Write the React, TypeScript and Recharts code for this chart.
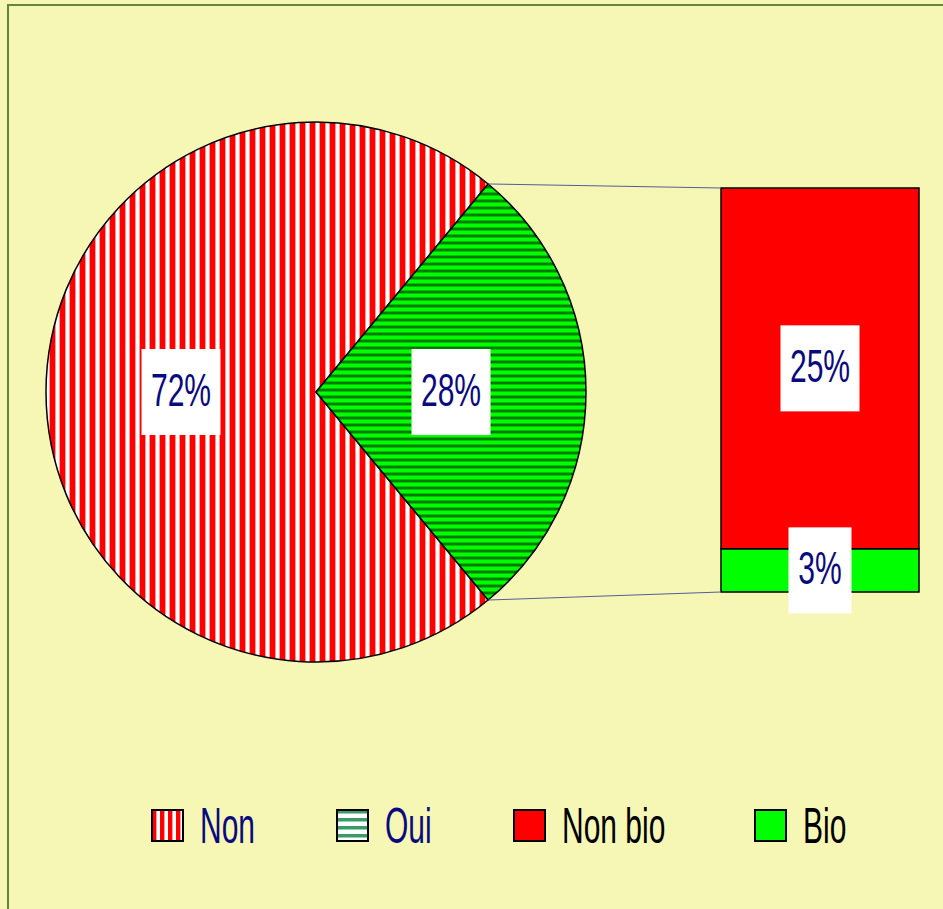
import { PieChart, Pie, Cell, BarChart, Bar, XAxis, YAxis, LabelList } from "recharts";

const categories = ["Non", "Oui"];
const shares = [72, 28];
const subCategories = ["Non bio", "Bio"];
const subShares = [25, 3];

const pieData = categories.map((name, i) => ({ name, value: shares[i] }));
const barData = [{ name: categories[1], nonBio: subShares[0], bio: subShares[1] }];

const BG = "#F7F7B5";
const NAVY = "#0A0A80";
const FONT = "'Liberation Sans', Arial, sans-serif";
const PIE = { cx: 316, cy: 392, r: 270 };
const BAR = { left: 700, top: 150, width: 243, height: 480, margin: { top: 38, right: 24, bottom: 38, left: 21 } };
const LEGEND_X = [152, 337, 514, 755];
const RAD = Math.PI / 180;

// half of the "Oui" slice, so it sits centred on the right
const halfOui = (shares[1] / 100) * 180;

function boxWidth(text: string) {
  const digits = text.replace("%", "").length;
  return digits * 16 + 31 + 16;
}

function PctBox({ x, y, text }: { x: number; y: number; text: string }) {
  const w = boxWidth(text);
  return (
    <g>
      <rect x={x - w / 2} y={y - 43} width={w} height={86} fill="#fff" />
      <text
        transform={`translate(${x} ${y + 14}) scale(0.64 1)`}
        textAnchor="middle"
        fontFamily={FONT}
        fontSize={47}
        fill={NAVY}
      >
        {text}
      </text>
    </g>
  );
}

const pieLabel = (p: any) => {
  const rr = p.outerRadius * 0.5;
  const x = p.cx + rr * Math.cos(-p.midAngle * RAD);
  const y = p.cy + rr * Math.sin(-p.midAngle * RAD);
  return <PctBox x={x} y={y} text={`${p.value}%`} />;
};

const barLabel = (p: any) => (
  <PctBox x={p.x + p.width / 2} y={p.y + p.height / 2} text={`${p.value}%`} />
);

function Patterns() {
  return (
    <svg width={0} height={0} style={{ position: "absolute" }}>
      <defs>
        <pattern id="nonStripes" width={10} height={10} patternUnits="userSpaceOnUse">
          <rect width={10} height={10} fill="#fff" />
          <rect x={0} width={5} height={10} fill="#FF0000" />
          <rect x={5} width={1} height={10} fill="#FF9A9A" />
          <rect x={9} width={1} height={10} fill="#FF9A9A" />
        </pattern>
        <pattern id="ouiStripes" width={7} height={7} patternUnits="userSpaceOnUse">
          <rect width={7} height={7} fill="#00FF00" />
          <rect y={3} width={7} height={1} fill="#00C000" />
          <rect y={4} width={7} height={2} fill="#007A00" />
          <rect y={6} width={7} height={1} fill="#00C000" />
        </pattern>
        <pattern id="legNon" x={0} width={8} height={8} patternUnits="userSpaceOnUse">
          <rect width={8} height={8} fill="#fff" />
          <rect x={0} width={4} height={8} fill="#FF0000" />
          <rect x={4} width={1} height={8} fill="#FF9A9A" />
        </pattern>
        <pattern id="legOui" width={8} height={8} patternUnits="userSpaceOnUse">
          <rect width={8} height={8} fill="#fff" />
          <rect y={2} width={8} height={3} fill="#3A9A68" />
          <rect y={5} width={8} height={1} fill="#9CCCB2" />
        </pattern>
      </defs>
    </svg>
  );
}

export default function App() {
  const topPie = { x: PIE.cx + PIE.r * Math.cos(halfOui * RAD), y: PIE.cy - PIE.r * Math.sin(halfOui * RAD) };
  const botPie = { x: topPie.x, y: PIE.cy + PIE.r * Math.sin(halfOui * RAD) };
  const barX = BAR.left + BAR.margin.left;
  const barTop = BAR.top + BAR.margin.top;
  const barBottom = BAR.top + BAR.height - BAR.margin.bottom;

  const legendItems = [
    { name: categories[0], fill: "url(#legNon)", color: NAVY },
    { name: categories[1], fill: "url(#legOui)", color: NAVY },
    { name: subCategories[0], fill: "#FF0000", color: "#000" },
    { name: subCategories[1], fill: "#00FF00", color: "#000" },
  ];

  return (
    <div style={{ position: "absolute", left: 0, top: 0, width: 943, height: 909, overflow: "hidden", background: BG }}>
      <Patterns />
      <div style={{ position: "absolute", left: 7, top: 4, width: 1000, height: 1000, border: "2px solid #66873A" }} />

      <div style={{ position: "absolute", left: 0, top: 0 }}>
        <PieChart width={640} height={700} margin={{ top: 0, right: 0, bottom: 0, left: 0 }}>
          <Pie
            data={pieData}
            dataKey="value"
            cx={PIE.cx}
            cy={PIE.cy}
            outerRadius={PIE.r}
            startAngle={halfOui}
            endAngle={360 + halfOui}
            stroke="#000"
            strokeWidth={1.5}
            label={pieLabel}
            labelLine={false}
            isAnimationActive={false}
          >
            <Cell fill="url(#nonStripes)" />
            <Cell fill="url(#ouiStripes)" />
          </Pie>
        </PieChart>
      </div>

      <div style={{ position: "absolute", left: BAR.left, top: BAR.top }}>
        <BarChart width={BAR.width} height={BAR.height} data={barData} margin={BAR.margin} barCategoryGap={0}>
          <XAxis dataKey="name" hide />
          <YAxis hide domain={[0, shares[1]]} />
          <Bar dataKey="bio" stackId="a" fill="#00FF00" stroke="#000" strokeWidth={1.5} isAnimationActive={false}>
            <LabelList dataKey="bio" content={barLabel} />
          </Bar>
          <Bar dataKey="nonBio" stackId="a" fill="#FF0000" stroke="#000" strokeWidth={1.5} isAnimationActive={false}>
            <LabelList dataKey="nonBio" content={barLabel} />
          </Bar>
        </BarChart>
      </div>

      <svg width={943} height={909} style={{ position: "absolute", left: 0, top: 0, pointerEvents: "none" }}>
        <line x1={topPie.x} y1={topPie.y} x2={barX} y2={barTop} stroke="#5A5A9A" strokeWidth={1} />
        <line x1={botPie.x} y1={botPie.y} x2={barX} y2={barBottom} stroke="#5A5A9A" strokeWidth={1} />
        {legendItems.map((item, i) => (
          <g key={item.name}>
            <rect x={LEGEND_X[i]} y={810} width={31} height={31} fill={item.fill} stroke="#000" strokeWidth={2} />
            <text
              transform={`translate(${LEGEND_X[i] + 48} 843) scale(0.6 1)`}
              fontFamily={FONT}
              fontSize={50}
              fill={item.color}
            >
              {item.name}
            </text>
          </g>
        ))}
      </svg>
    </div>
  );
}
